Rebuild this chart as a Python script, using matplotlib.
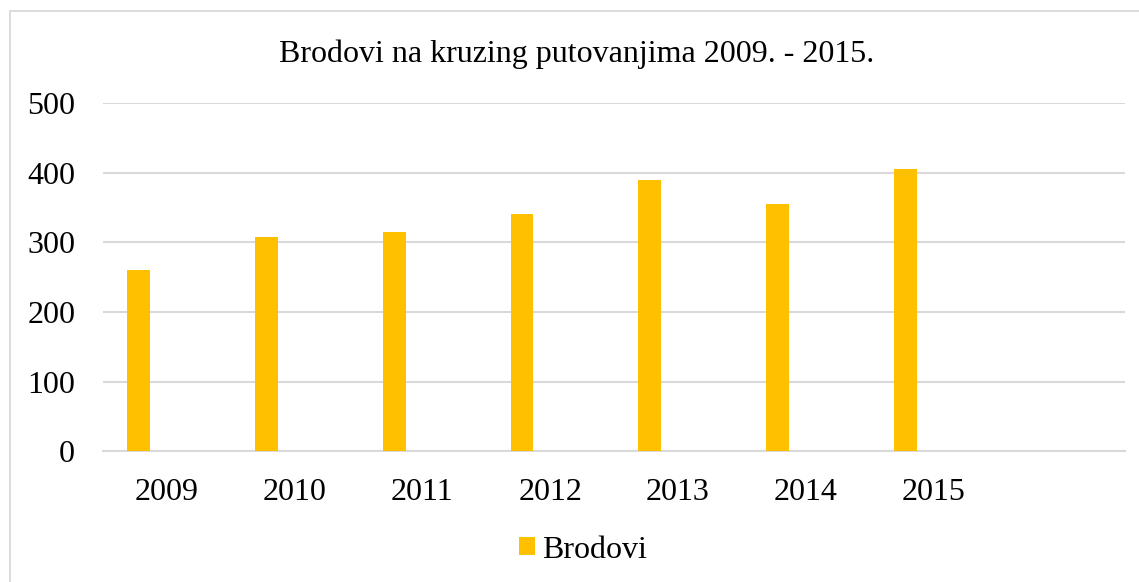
import numpy as np
import matplotlib.pyplot as plt
from matplotlib.patches import Rectangle

# Data
godine = ["2009", "2010", "2011", "2012", "2013", "2014", "2015", ""]
brodovi = [260, 307, 315, 340, 390, 355, 405]

plt.rcParams['font.family'] = ['Liberation Serif', 'DejaVu Serif']

fig = plt.figure(figsize=(11.39, 5.82), dpi=100)
fig.patches.append(Rectangle((9.5 / 1139, -0.1), 1.2, (582 - 10.5) / 582 + 0.1,
                             transform=fig.transFigure, fill=False,
                             edgecolor="#d9d9d9", linewidth=1.3))

ax = fig.add_axes([103 / 1139, 130.6 / 582, (1125 - 103) / 1139, (451.4 - 103) / 582])

x = np.arange(len(godine))
ax.bar(x[:len(brodovi)] - 0.22, brodovi, width=0.177, color="#FFC000",
       label="Brodovi", zorder=3)

ax.set_xlim(-0.5, len(godine) - 0.5)
ax.set_ylim(0, 500)
ax.set_yticks(np.arange(0, 501, 100))
ax.set_xticks(x)
ax.set_xticklabels(godine)
ax.tick_params(axis="both", length=0, labelsize=23, colors="#000000")
ax.tick_params(axis="y", pad=20)
ax.tick_params(axis="x", pad=19)
ax.grid(axis="y", color="#d9d9d9", linewidth=1.5, zorder=0)
for s in ["top", "right", "left"]:
    ax.spines[s].set_visible(False)
ax.spines["bottom"].set_color("#d9d9d9")
ax.spines["bottom"].set_linewidth(1.5)

fig.text(0.5 + 7 / 1139, 1 - 62 / 582, "Brodovi na kruzing putovanjima 2009. - 2015.",
         ha="center", va="baseline", fontsize=23)

fig.legend(loc="center", bbox_to_anchor=(583 / 1139, 1 - 550 / 582), frameon=False,
           fontsize=23, handlelength=0.5, handleheight=0.5, handletextpad=0.2)

fig.savefig("out.png", dpi=100)
